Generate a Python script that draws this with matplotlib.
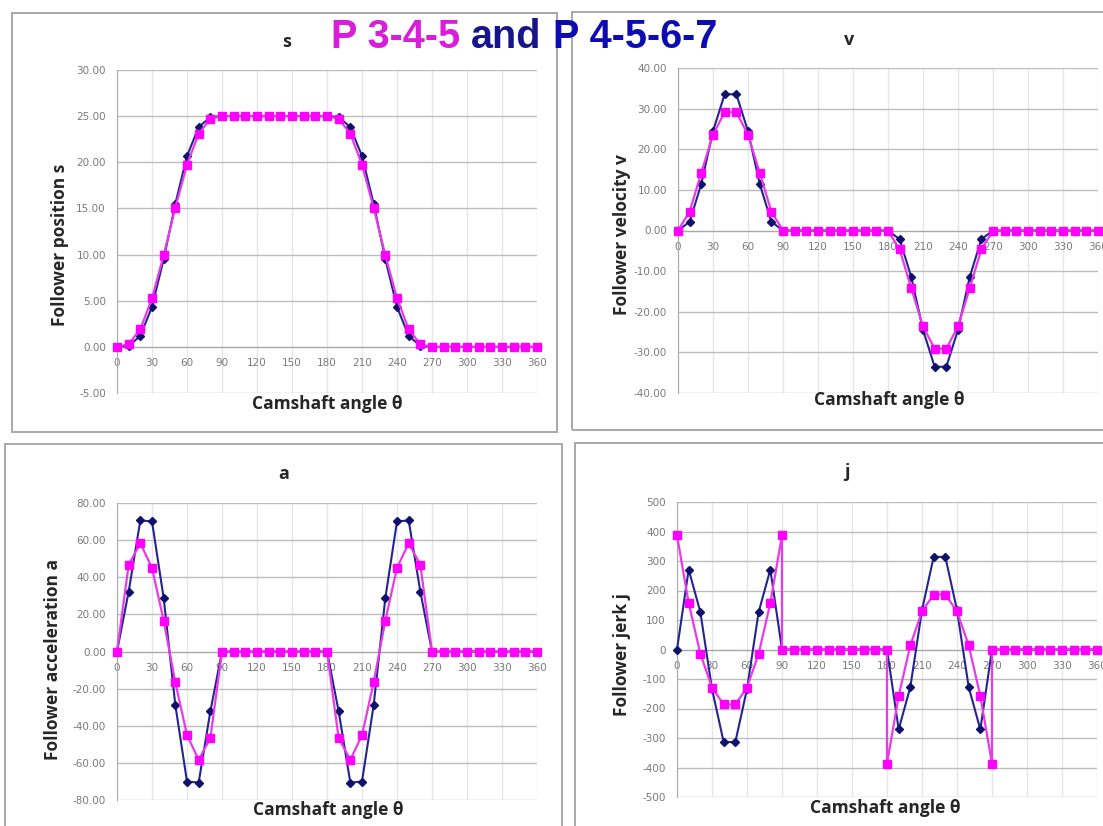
import matplotlib
matplotlib.use("Agg")
import matplotlib.pyplot as plt
from matplotlib.patches import Rectangle
from matplotlib.ticker import FormatStrFormatter

plt.rcParams['axes.unicode_minus'] = False

# ---------------- data ----------------
theta = [0, 10, 20, 30, 40, 50, 60, 70, 80, 90, 100, 110, 120, 130, 140, 150, 160, 170,
         180, 190, 200, 210, 220, 230, 240, 250, 260, 270, 280, 290, 300, 310, 320, 330,
         340, 350, 360]

s_345 = [0.00, 0.29, 1.91, 5.25, 9.92, 15.08, 19.75, 23.09, 24.71, 25.00,
         25.00, 25.00, 25.00, 25.00, 25.00, 25.00, 25.00, 25.00,
         25.00, 24.71, 23.09, 19.75, 15.08, 9.92, 5.25, 1.91, 0.29, 0.00,
         0, 0, 0, 0, 0, 0, 0, 0, 0]
s_4567 = [0.00, 0.10, 1.19, 4.33, 9.50, 15.50, 20.67, 23.81, 24.90, 25.00,
          25.00, 25.00, 25.00, 25.00, 25.00, 25.00, 25.00, 25.00,
          25.00, 24.90, 23.81, 20.67, 15.50, 9.50, 4.33, 1.19, 0.10, 0.00,
          0, 0, 0, 0, 0, 0, 0, 0, 0]

v_345 = [0.00, 4.66, 14.26, 23.58, 29.11, 29.11, 23.58, 14.26, 4.66, 0.00,
         0, 0, 0, 0, 0, 0, 0, 0,
         0.00, -4.66, -14.26, -23.58, -29.11, -29.11, -23.58, -14.26, -4.66, 0.00,
         0, 0, 0, 0, 0, 0, 0, 0, 0]
v_4567 = [0.00, 2.15, 11.51, 24.45, 33.54, 33.54, 24.45, 11.51, 2.15, 0.00,
          0, 0, 0, 0, 0, 0, 0, 0,
          0.00, -2.15, -11.51, -24.45, -33.54, -33.54, -24.45, -11.51, -2.15, 0.00,
          0, 0, 0, 0, 0, 0, 0, 0, 0]

a_345 = [0.00, 46.70, 58.37, 45.03, 16.68, -16.68, -45.03, -58.37, -46.70, 0.00,
         0, 0, 0, 0, 0, 0, 0, 0,
         0.00, -46.70, -58.37, -45.03, -16.68, 16.68, 45.03, 58.37, 46.70, 0.00,
         0, 0, 0, 0, 0, 0, 0, 0, 0]
a_4567 = [0.00, 32.29, 70.63, 70.05, 28.83, -28.83, -70.05, -70.63, -32.29, 0.00,
          0, 0, 0, 0, 0, 0, 0, 0,
          0.00, -32.29, -70.63, -70.05, -28.83, 28.83, 70.05, 70.63, 32.29, 0.00,
          0, 0, 0, 0, 0, 0, 0, 0, 0]

j_4567 = [0.0, 270.9, 127.2, -133.8, -313.8, -313.8, -133.8, 127.2, 270.9, 0.0,
          0, 0, 0, 0, 0, 0, 0, 0,
          0.0, -270.9, -127.2, 133.8, 313.8, 313.8, 133.8, -127.2, -270.9, 0.0,
          0, 0, 0, 0, 0, 0, 0, 0, 0]
# P 3-4-5 jerk jumps at 90, 180 and 270 (two values at those angles)
theta_j345 = [0, 10, 20, 30, 40, 50, 60, 70, 80, 90, 90, 100, 110, 120, 130, 140, 150,
              160, 170, 180, 180, 190, 200, 210, 220, 230, 240, 250, 260, 270, 270,
              280, 290, 300, 310, 320, 330, 340, 350, 360]
j_345 = [387.0, 157.7, -14.3, -129.0, -186.3, -186.3, -129.0, -14.3, 157.7, 387.0, 0.0,
         0, 0, 0, 0, 0, 0, 0, 0, 0.0,
         -387.0, -157.7, 14.3, 129.0, 186.3, 186.3, 129.0, 14.3, -157.7, -387.0, 0.0,
         0, 0, 0, 0, 0, 0, 0, 0, 0]

x_ticks = [0, 30, 60, 90, 120, 150, 180, 210, 240, 270, 300, 330, 360]
s_ticks = [-5, 0, 5, 10, 15, 20, 25, 30]
v_ticks = [-40, -30, -20, -10, 0, 10, 20, 30, 40]
a_ticks = [-80, -60, -40, -20, 0, 20, 40, 60, 80]
j_ticks = [-500, -400, -300, -200, -100, 0, 100, 200, 300, 400, 500]

title_parts = ["P 3-4-5", "and", "P 4-5-6-7"]

# ---------------- styling ----------------
W, H = 1103, 826
C345 = '#ff00ff'
C345_LINE = '#e83ae8'
C4567 = '#10106e'
C4567_LINE = '#24248f'
LABEL_FONT = ['Open Sans', 'DejaVu Sans']

fig = plt.figure(figsize=(W / 100, H / 100), dpi=100)


def fx(x):
    return x / W


def fy(y):
    return 1 - y / H


def box(x0, y0, x1, y1):
    fig.add_artist(Rectangle((fx(x0), fy(y1)), fx(x1 - x0), (y1 - y0) / H,
                             transform=fig.transFigure, fill=False,
                             ec='#a8a8a8', lw=1.4, zorder=0))


box(12, 13, 557, 432)
box(572, 12, 1112, 430)
box(5, 444, 562, 840)
box(575, 443, 1112, 840)


def make_axes(x0, x1, ytop, ybot):
    return fig.add_axes([fx(x0), fy(ybot), fx(x1 - x0), (ybot - ytop) / H])


def style(ax, yticks, fmt):
    ax.set_xlim(0, 360)
    ax.set_ylim(yticks[0], yticks[-1])
    ax.set_xticks(x_ticks)
    ax.set_yticks(yticks)
    ax.yaxis.set_major_formatter(FormatStrFormatter(fmt))
    ax.grid(axis='y', color='#bdbdbd', lw=1.0, zorder=0)
    ax.grid(axis='x', color='#e6e6e6', lw=1.0, zorder=0)
    ax.set_axisbelow(True)
    for sp in ('top', 'right'):
        ax.spines[sp].set_visible(False)
    ax.spines['left'].set_color('#a8a8a8')
    ax.spines['bottom'].set_color('#a8a8a8')
    ax.spines['bottom'].set_position(('data', 0))
    ax.tick_params(length=0, labelsize=7.5, labelcolor='#7a7a7a')
    ax.tick_params(axis='x', pad=8)
    ax.tick_params(axis='y', pad=8)
    for lab in ax.get_xticklabels() + ax.get_yticklabels():
        lab.set_family('DejaVu Sans')


def plot_pair(ax, x345, y345, y4567):
    ax.plot(theta, y4567, color=C4567_LINE, lw=1.5, marker='D', ms=4,
            mfc=C4567, mec=C4567, zorder=3, clip_on=False)
    ax.plot(x345, y345, color=C345_LINE, lw=1.6, marker='s', ms=5.5,
            mfc=C345, mec=C345, zorder=4, clip_on=False)


ax_s = make_axes(117, 537, 70, 393)
style(ax_s, s_ticks, '%.2f')
plot_pair(ax_s, theta, s_345, s_4567)

ax_v = make_axes(678, 1098, 68, 393)
style(ax_v, v_ticks, '%.2f')
plot_pair(ax_v, theta, v_345, v_4567)

ax_a = make_axes(117, 537, 503, 800)
style(ax_a, a_ticks, '%.2f')
plot_pair(ax_a, theta, a_345, a_4567)

ax_j = make_axes(677, 1097, 502, 797)
style(ax_j, j_ticks, '%d')
plot_pair(ax_j, theta_j345, j_345, j_4567)


def ftext(x, y, s, **kw):
    fig.text(fx(x), fy(y), s, ha='center', va='center', **kw)


# chart titles
for (x, y, t) in [(287, 42, 's'), (849, 40, 'v'), (284, 474, 'a'), (847, 472, 'j')]:
    ftext(x, y, t, fontsize=13, fontweight='bold', color='#262626', family=LABEL_FONT)

# x-axis labels
for (x, y) in [(327, 404), (889, 400), (328, 810), (885, 808)]:
    ftext(x, y, 'Camshaft angle θ', fontsize=12.5, fontweight='bold',
          color='#262626', family=LABEL_FONT)

# y-axis labels
for (x, y, t) in [(60, 245, 'Follower position s'), (622, 235, 'Follower velocity v'),
                  (53, 660, 'Follower acceleration a'), (622, 655, 'Follower jerk j')]:
    ftext(x, y, t, fontsize=12.5, fontweight='bold', color='#262626',
          family=LABEL_FONT, rotation=90)

# big title in three colours
renderer = fig.canvas.get_renderer()
colors = ['#d91ed9', '#16168a', '#0c0cb0']
xpos = 331
for part, col in zip(title_parts, colors):
    t = fig.text(fx(xpos), fy(48), part, ha='left', va='baseline', fontsize=28.5,
                 fontweight='bold', color=col, family=['Liberation Sans', 'DejaVu Sans'])
    bb = t.get_window_extent(renderer)
    xpos = bb.x1 + 11

fig.savefig('out.png', dpi=100)
